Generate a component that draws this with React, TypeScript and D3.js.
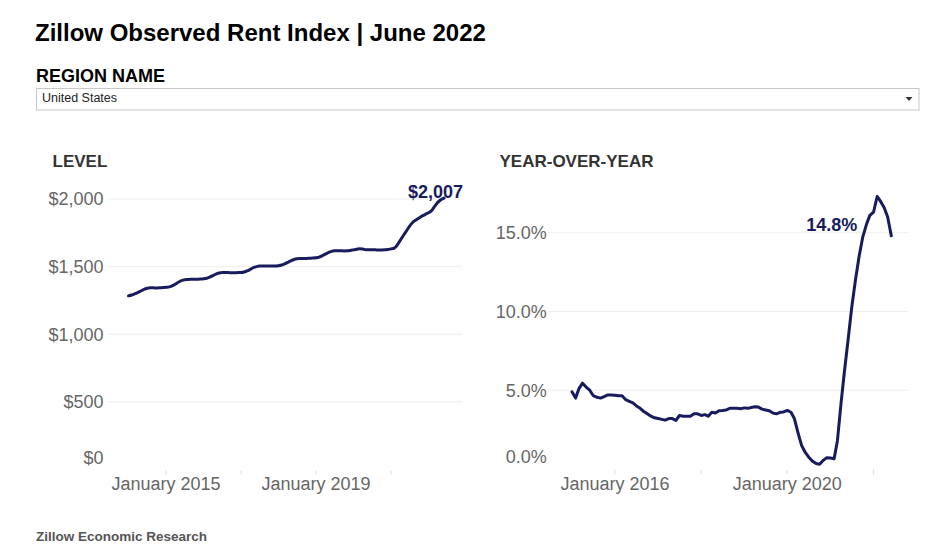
import * as d3 from 'd3'

// Zillow Observed Rent Index, United States, monthly
const levelStart = new Date(2014, 0, 1)
const levelValues = [
  1284, 1290, 1298, 1308, 1320, 1332, 1340, 1343, 1343, 1342, 1343, 1345,
  1347, 1350, 1358, 1370, 1385, 1397, 1403, 1405, 1406, 1406, 1407, 1408,
  1410, 1414, 1422, 1433, 1445, 1453, 1457, 1457, 1456, 1455, 1455, 1456,
  1456, 1460, 1468, 1480, 1492, 1500, 1504, 1505, 1505, 1504, 1504, 1505,
  1507, 1512, 1520, 1531, 1543, 1553, 1558, 1560, 1561, 1561, 1562, 1563,
  1565, 1570, 1580, 1592, 1604, 1613, 1617, 1618, 1617, 1616, 1617, 1620,
  1624, 1628, 1633, 1630, 1625, 1624, 1625, 1624, 1623, 1623, 1624, 1627,
  1631, 1637, 1658, 1695, 1730, 1765, 1800, 1828, 1845, 1860, 1875, 1887,
  1898, 1915, 1945, 1975, 1995, 2007,
]

const yoyStart = new Date(2015, 0, 1)
const yoyValues = [
  4.9, 4.5, 5.1, 5.45, 5.2, 5.0, 4.65, 4.55, 4.5, 4.6, 4.7, 4.7,
  4.68, 4.65, 4.65, 4.4, 4.3, 4.2, 4.0, 3.85, 3.65, 3.5, 3.35, 3.25,
  3.2, 3.15, 3.1, 3.2, 3.2, 3.08, 3.4, 3.35, 3.35, 3.35, 3.5, 3.5,
  3.4, 3.45, 3.35, 3.6, 3.55, 3.7, 3.72, 3.75, 3.85, 3.85, 3.85, 3.83,
  3.88, 3.85, 3.9, 3.95, 3.93, 3.8, 3.75, 3.7, 3.55, 3.5, 3.6, 3.62,
  3.72, 3.6, 3.2, 2.3, 1.5, 1.05, 0.75, 0.5, 0.35, 0.3, 0.55, 0.72,
  0.7, 0.65, 1.8, 4.2, 6.3, 8.3, 10.3, 12.0, 13.5, 14.7, 15.5, 16.1,
  16.3, 17.3, 17.0, 16.6, 16.0, 14.8,
]

const levelTicks = [0, 500, 1000, 1500, 2000]
const yoyTicks = [0, 5, 10, 15]
const levelYearTicks = [2015, 2017, 2019, 2021]
const levelYearLabels = [2015, 2019]
const yoyYearTicks = [2016, 2018, 2020, 2022]
const yoyYearLabels = [2016, 2020]

const NAVY = '#181c5c'
const FONT = '"Liberation Sans", Arial, Helvetica, sans-serif'

interface Pt { date: Date; value: number }

const toSeries = (start: Date, values: number[]): Pt[] =>
  values.map((v, i) => ({ date: d3.timeMonth.offset(start, i), value: v }))

interface PanelProps {
  title: string
  titleX: number
  data: Pt[]
  x: d3.ScaleTime<number, number>
  y: d3.ScaleLinear<number, number>
  yTicks: number[]
  yFormat: (v: number) => string
  yearTicks: number[]
  yearLabels: number[]
  gridX: [number, number]
  labelX: number
  endLabel: string
  endDx: number
  endDy: number
  curve: d3.CurveFactory
}

function Panel(p: PanelProps) {
  const line = d3.line<Pt>().x(d => p.x(d.date)).y(d => p.y(d.value)).curve(p.curve)
  const last = p.data[p.data.length - 1]
  const bottom = p.y(0)
  return (
    <g>
      <text x={p.titleX} y={166.5} fontSize={17} fontWeight="bold" fill="#333">{p.title}</text>
      {p.yTicks.map(t => (
        <g key={t}>
          {t !== 0 && (
            <line x1={p.gridX[0]} x2={p.gridX[1]} y1={p.y(t)} y2={p.y(t)} stroke="#eeeeee" strokeWidth={1} />
          )}
          <text
            x={p.labelX}
            y={t === 0 ? bottom - 6 : p.y(t)}
            dy={t === 0 ? 0 : '0.35em'}
            textAnchor="end"
            fontSize={18}
            fill="#666"
          >
            {p.yFormat(t)}
          </text>
        </g>
      ))}
      {p.yearTicks.map(yr => {
        const xx = p.x(new Date(yr, 0, 1))
        return <line key={yr} x1={xx} x2={xx} y1={bottom + 1} y2={bottom + 5} stroke="#dddddd" strokeWidth={1} />
      })}
      {p.yearLabels.map(yr => (
        <text key={yr} x={p.x(new Date(yr, 0, 1))} y={490} textAnchor="middle" fontSize={18} fill="#666">
          {`January ${yr}`}
        </text>
      ))}
      <path d={line(p.data) ?? ''} fill="none" stroke={NAVY} strokeWidth={3} strokeLinejoin="round" strokeLinecap="round" />
      <text
        x={p.x(last.date) + p.endDx}
        y={p.y(last.value) + p.endDy}
        textAnchor="end"
        fontSize={18}
        fontWeight="bold"
        fill={NAVY}
      >
        {p.endLabel}
      </text>
    </g>
  )
}

export default function App() {
  const level = toSeries(levelStart, levelValues)
  const yoy = toSeries(yoyStart, yoyValues)

  const xLevel = d3.scaleTime().domain([new Date(2015, 0, 1), new Date(2019, 0, 1)]).range([166, 316])
  const yLevel = d3.scaleLinear().domain([0, 2000]).range([469.5, 199])
  const xYoy = d3.scaleTime().domain([new Date(2016, 0, 1), new Date(2020, 0, 1)]).range([615, 787.3])
  const yYoy = d3.scaleLinear().domain([0, 15]).range([469, 232.7])

  const lastLevel = levelValues[levelValues.length - 1]
  const lastYoy = yoyValues[yoyValues.length - 1]

  return (
    <>
      <style>{'body{margin:0}'}</style>
      <svg width={943} height={554} style={{ display: 'block', fontFamily: FONT }}>
        <rect width={943} height={554} fill="#fff" />
        <text x={35} y={41} fontSize={24} fontWeight="bold" fill="#000">Zillow Observed Rent Index | June 2022</text>
        <text x={36} y={81.5} fontSize={18} fontWeight="bold" fill="#000">REGION NAME</text>
        <rect x={36.5} y={88.5} width={882.5} height={21.5} fill="#fff" stroke="#c8c8c8" strokeWidth={1} />
        <text x={42} y={101.8} fontSize={12.5} fill="#222">United States</text>
        <path d="M905.5,97 L912.5,97 L909,101 Z" fill="#333" />

        <Panel
          title="LEVEL"
          titleX={52.5}
          data={level}
          x={xLevel}
          y={yLevel}
          yTicks={levelTicks}
          yFormat={d3.format('$,')}
          yearTicks={levelYearTicks}
          yearLabels={levelYearLabels}
          gridX={[107, 462]}
          labelX={103.5}
          endLabel={d3.format('$,')(lastLevel)}
          endDx={19}
          endDy={0}
          curve={d3.curveMonotoneX}
        />
        <Panel
          title="YEAR-OVER-YEAR"
          titleX={499.5}
          data={yoy}
          x={xYoy}
          y={yYoy}
          yTicks={yoyTicks}
          yFormat={v => `${v.toFixed(1)}%`}
          yearTicks={yoyYearTicks}
          yearLabels={yoyYearLabels}
          gridX={[548, 908]}
          labelX={546.7}
          endLabel={`${lastYoy.toFixed(1)}%`}
          endDx={-34}
          endDy={-5}
          curve={d3.curveLinear}
        />

        <text x={36} y={541} fontSize={13.5} fontWeight="bold" fill="#555">Zillow Economic Research</text>
      </svg>
    </>
  )
}
